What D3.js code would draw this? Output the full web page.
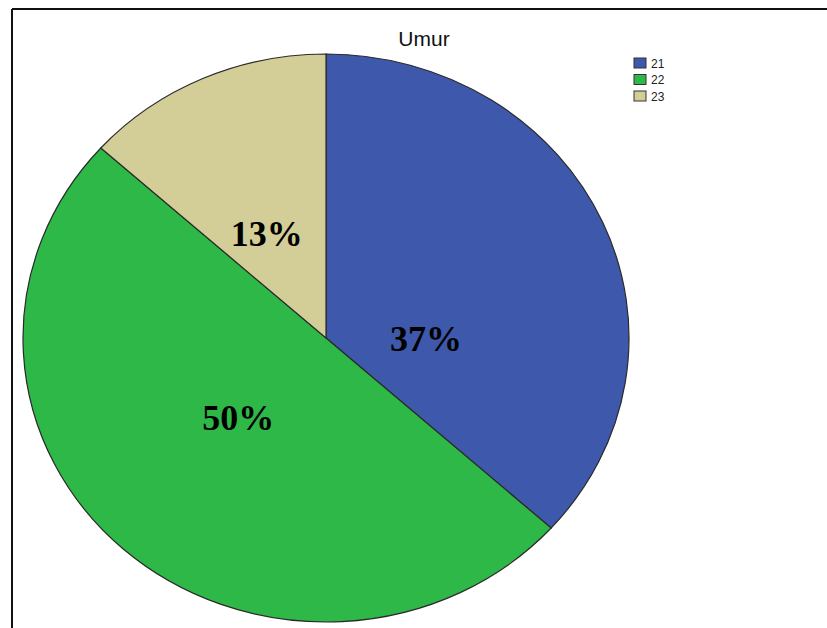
<!DOCTYPE html>
<html>
<head>
<meta charset="utf-8">
<script src="https://cdn.jsdelivr.net/npm/d3@7"></script>
<style>
  html, body { margin: 0; padding: 0; background: #fff; }
  svg { display: block; }
</style>
</head>
<body>
<svg id="chart" width="827" height="628"></svg>
<script>
// Age distribution (Umur)
const title = "Umur";
const categories = ["21", "22", "23"];
const counts = [11, 15, 4];
const percentLabels = ["37%", "50%", "13%"];
const colors = ["#3E58AC", "#2EB848", "#D3CE97"];

// Label placement inside each slice: polar angle (deg, clockwise from top) and radius
const labelAngle = [90, 226, 332];
const labelRadius = [100, 122, 126];

const W = 827, H = 628;
const cx = 326, cy = 338, rx = 303, ry = 284;

const svg = d3.select("#chart");

// frame lines
svg.append("line").attr("x1", 12).attr("x2", W).attr("y1", 9).attr("y2", 9)
  .attr("stroke", "#111").attr("stroke-width", 2);
svg.append("line").attr("x1", 12).attr("x2", 12).attr("y1", 9).attr("y2", H)
  .attr("stroke", "#111").attr("stroke-width", 2);

// title
svg.append("text").attr("x", 424).attr("y", 46)
  .attr("text-anchor", "middle")
  .attr("font-family", "Arial, 'Liberation Sans', sans-serif")
  .attr("font-size", 21)
  .attr("fill", "#111")
  .text(title);

const pie = d3.pie().sort(null).value(d => d)(counts);
const arc = d3.arc().innerRadius(0).outerRadius(rx);

// pie drawn as a circle, squashed vertically into an ellipse
const g = svg.append("g")
  .attr("transform", `translate(${cx},${cy}) scale(1,${ry / rx})`);

g.selectAll("path").data(pie).join("path")
  .attr("d", arc)
  .attr("fill", (d, i) => colors[i])
  .attr("stroke", "#2a2a2a")
  .attr("stroke-width", 1.2)
  .attr("vector-effect", "non-scaling-stroke");

// percentage labels
svg.selectAll("text.pct").data(pie).join("text")
  .attr("class", "pct")
  .attr("x", (d, i) => cx + labelRadius[i] * Math.sin(labelAngle[i] * Math.PI / 180))
  .attr("y", (d, i) => cy - labelRadius[i] * (ry / rx) * Math.cos(labelAngle[i] * Math.PI / 180))
  .attr("dy", "0.35em")
  .attr("text-anchor", "middle")
  .attr("font-family", "'Times New Roman', 'Liberation Serif', serif")
  .attr("font-weight", "bold")
  .attr("font-size", 36)
  .attr("fill", "#000")
  .text((d, i) => percentLabels[i]);

// legend
const legend = svg.append("g").attr("transform", "translate(634,58)");
const item = legend.selectAll("g").data(categories).join("g")
  .attr("transform", (d, i) => `translate(0,${i * 16.5})`);
item.append("rect").attr("width", 12).attr("height", 10)
  .attr("fill", (d, i) => colors[i])
  .attr("stroke", "#333").attr("stroke-width", 1);
item.append("text").attr("x", 17).attr("y", 9.5)
  .attr("font-family", "Arial, 'Liberation Sans', sans-serif")
  .attr("font-size", 12)
  .attr("fill", "#222")
  .text(d => d);
</script>
</body>
</html>
